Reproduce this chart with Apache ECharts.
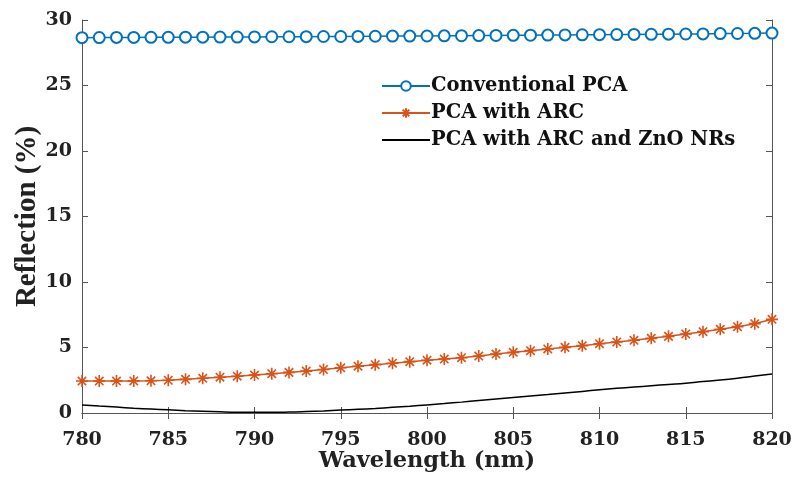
<!DOCTYPE html>
<html><head><meta charset="utf-8">
<script src="https://cdn.jsdelivr.net/npm/echarts@6/dist/echarts.min.js"></script>
<style>html,body{margin:0;padding:0;background:#fff}#c{width:795px;height:490px}</style>
</head><body><div id="c"></div>
<script>
const wavelengths = [780,781,782,783,784,785,786,787,788,789,790,791,792,793,794,795,796,797,798,799,800,801,802,803,804,805,806,807,808,809,810,811,812,813,814,815,816,817,818,819,820];
const conventional = [28.65,28.66,28.67,28.67,28.68,28.68,28.69,28.69,28.70,28.70,28.71,28.72,28.72,28.73,28.74,28.74,28.75,28.76,28.77,28.77,28.78,28.79,28.80,28.81,28.82,28.83,28.84,28.85,28.86,28.87,28.88,28.89,28.90,28.91,28.92,28.93,28.94,28.96,28.97,28.98,29.00];
const withARC = [2.44,2.44,2.44,2.45,2.46,2.50,2.57,2.65,2.73,2.81,2.90,3.00,3.10,3.20,3.32,3.45,3.57,3.69,3.80,3.92,4.03,4.12,4.22,4.35,4.50,4.63,4.76,4.89,5.01,5.14,5.29,5.42,5.55,5.70,5.85,6.03,6.21,6.39,6.59,6.82,7.15];
const withZnO = [0.62,0.53,0.45,0.37,0.30,0.24,0.18,0.13,0.09,0.06,0.05,0.05,0.07,0.11,0.16,0.22,0.28,0.35,0.43,0.52,0.62,0.72,0.83,0.95,1.07,1.19,1.30,1.41,1.53,1.65,1.77,1.88,1.98,2.08,2.18,2.28,2.40,2.52,2.66,2.82,2.98];
const seriesNames = ['Conventional PCA','PCA with ARC','PCA with ARC and ZnO NRs'];
const xTicks = [780,785,790,795,800,805,810,815,820];
const yTicks = [0,5,10,15,20,25,30];

const WIDE = '"DejaVu Serif", serif';
const TIMES = '"Liberation Serif", "Times New Roman", serif';
const axisColor = '#555';
const pair = (ys) => wavelengths.map((x,i)=>[x,ys[i]]);
const star = 'path://M0,-6L0,6M-6,0L6,0M-4.2,-4.2L4.2,4.2M-4.2,4.2L4.2,-4.2';

const chart = echarts.init(document.getElementById('c'), null, {renderer:'canvas'});
const commonX = {type:'value', min:780, max:820, interval:5,
  axisLine:{show:true, lineStyle:{color:axisColor, width:1}},
  axisTick:{show:true, inside:true, length:6, lineStyle:{color:axisColor}},
  splitLine:{show:false}};
const commonY = {type:'value', min:0, max:30, interval:5,
  axisLine:{show:true, lineStyle:{color:axisColor, width:1}},
  axisTick:{show:true, inside:true, length:6, lineStyle:{color:axisColor}},
  splitLine:{show:false}};
chart.setOption({
  animation:false,
  backgroundColor:'#fff',
  grid:{left:82, right:23, top:20, bottom:77, outerBoundsMode:'none', containLabel:false},
  legend:{
    left:376, top:71, orient:'vertical', itemGap:7, itemWidth:48, itemHeight:12,
    textStyle:{fontFamily:WIDE, fontWeight:'bold', fontSize:19.5, color:'#111', padding:[0,0,0,-4]},
    data:[
      {name:seriesNames[0]},
      {name:seriesNames[1]},
      {name:seriesNames[2], itemStyle:{opacity:0}}
    ]
  },
  xAxis:[
    Object.assign({}, commonX, {position:'bottom', name:'Wavelength (nm)', nameLocation:'middle', nameGap:37,
      nameMoveOverlap:false,
      nameTextStyle:{fontFamily:WIDE, fontWeight:'bold', fontSize:22.5, color:'#222'},
      axisLabel:{fontFamily:WIDE, fontWeight:'bold', fontSize:19, color:'#222', margin:18,
        formatter:(v)=>xTicks.includes(v)?String(v):''}}),
    Object.assign({}, commonX, {position:'top', axisLabel:{show:false}})
  ],
  yAxis:[
    Object.assign({}, commonY, {position:'left', name:'Reflection (%)', nameLocation:'middle', nameGap:40,
      nameMoveOverlap:false,
      nameTextStyle:{fontFamily:TIMES, fontWeight:'bold', fontSize:29, color:'#222'},
      axisLabel:{fontFamily:WIDE, fontWeight:'bold', fontSize:19, color:'#222', margin:10,
        formatter:(v)=>yTicks.includes(v)?String(v):''}}),
    Object.assign({}, commonY, {position:'right', axisLabel:{show:false}})
  ],
  series:[
    {name:seriesNames[0], type:'line', data:pair(conventional), symbol:'emptyCircle', symbolSize:11,
      showAllSymbol:true,
      lineStyle:{color:'#0072BD', width:1.5}, itemStyle:{color:'#0072BD', borderColor:'#0072BD', borderWidth:1.5}},
    {name:seriesNames[1], type:'line', data:pair(withARC), symbol:star, symbolSize:12,
      showAllSymbol:true,
      lineStyle:{color:'#D95319', width:1.5}, itemStyle:{color:'#D95319', borderColor:'#D95319', borderWidth:1.6}},
    {name:seriesNames[2], type:'line', data:pair(withZnO), symbol:'none', smooth:true,
      lineStyle:{color:'#000', width:1.5}, itemStyle:{color:'#000'}}
  ]
});
</script></body></html>
